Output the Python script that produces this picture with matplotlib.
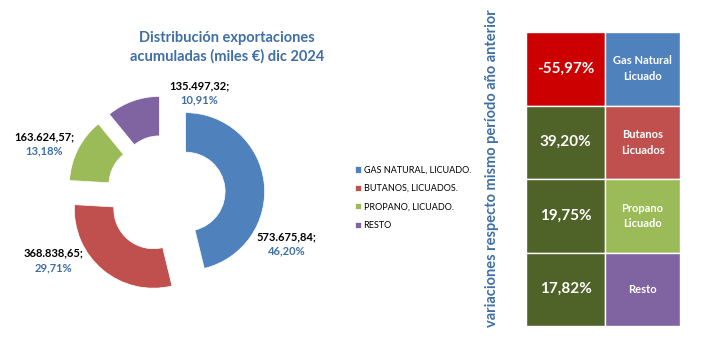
import matplotlib.pyplot as plt
from matplotlib.patches import Rectangle

plt.rcParams['font.family'] = ['Lato', 'DejaVu Sans']

# exportaciones acumuladas (miles de euros), dic 2024
categorias = ['GAS NATURAL, LICUADO.', 'BUTANOS, LICUADOS.', 'PROPANO, LICUADO.', 'RESTO']
valores = [573675.84, 368838.65, 163624.57, 135497.32]
colores = ['#4F81BD', '#C0504D', '#9BBB59', '#8064A2']

# variación respecto al mismo período del año anterior (%)
nombres_tabla = ['Gas Natural\nLicuado', 'Butanos\nLicuados', 'Propano\nLicuado', 'Resto']
variaciones = [-55.97, 39.20, 19.75, 17.82]

azul_texto = '#3E6FA6'


def miles(v):
    s = f'{v:,.2f}'
    return s.replace(',', 'X').replace('.', ',').replace('X', '.')


fig = plt.figure(figsize=(7.13, 3.38), dpi=100)

# donut
W, H = 713, 338
cx, cy, rpx = 166, 194, 79
lim = 1.6
side = 2 * lim * rpx
ax = fig.add_axes([(cx - side / 2) / W, 1 - (cy + side / 2) / H, side / W, side / H])
wedges, _ = ax.pie(valores, colors=colores, startangle=90, counterclock=False,
                   explode=[0.25] * len(valores),
                   wedgeprops=dict(width=0.5, edgecolor='white', linewidth=0.5))
ax.set_xlim(-lim, lim)
ax.set_ylim(-lim, lim)
ax.set_aspect('equal')
ax.axis('off')

total = sum(valores)
pos_etiquetas = [(1.53, -0.54), (-1.42, -0.75), (-1.54, 0.72), (0.42, 1.37)]
for v, (x, y) in zip(valores, pos_etiquetas):
    ax.text(x, y, miles(v) + ';', ha='center', va='center', fontsize=8,
            fontweight='bold', color='black')
    pct = f'{100 * v / total:.2f}%'.replace('.', ',')
    ax.text(x, y - 0.18, pct, ha='center', va='center', fontsize=8,
            fontweight='bold', color=azul_texto)

fig.text(227 / W, 1 - 47 / H, 'Distribución exportaciones\nacumuladas (miles €) dic 2024',
         ha='center', va='center', fontsize=10.5, fontweight='bold',
         color=azul_texto, linespacing=1.35)

fig.legend(wedges, categorias, loc='upper left', bbox_to_anchor=(350 / W, 1 - 161 / H),
           frameon=False, fontsize=6.5, handlelength=0.7, handleheight=0.7,
           handletextpad=0.3, labelspacing=1.05, borderpad=0)

# tabla de variaciones
tx = fig.add_axes([526 / W, 1 - 326 / H, 154 / W, 294 / H])
tx.set_xlim(0, 2.1)
tx.set_ylim(len(variaciones), 0)
tx.axis('off')
for i, (nombre, var, col) in enumerate(zip(nombres_tabla, variaciones, colores)):
    fondo = '#CC0000' if var < 0 else '#4F6228'
    tx.add_patch(Rectangle((0, i), 1.08, 1, facecolor=fondo, edgecolor='white', linewidth=1))
    tx.add_patch(Rectangle((1.08, i), 1.02, 1, facecolor=col, edgecolor='white', linewidth=1))
    tx.text(0.54, i + 0.5, f'{var:.2f}%'.replace('.', ','), ha='center', va='center',
            fontsize=11, fontweight='bold', color='white')
    tx.text(1.59, i + 0.5, nombre, ha='center', va='center', fontsize=8,
            fontweight='bold', color='white', linespacing=1.5)

fig.text(492 / W, 1 - 168 / H, 'variaciones respecto mismo período año anterior',
         rotation=90, ha='center', va='center', fontsize=10.5, fontweight='bold',
         color=azul_texto)

fig.savefig('out.png', dpi=100)
